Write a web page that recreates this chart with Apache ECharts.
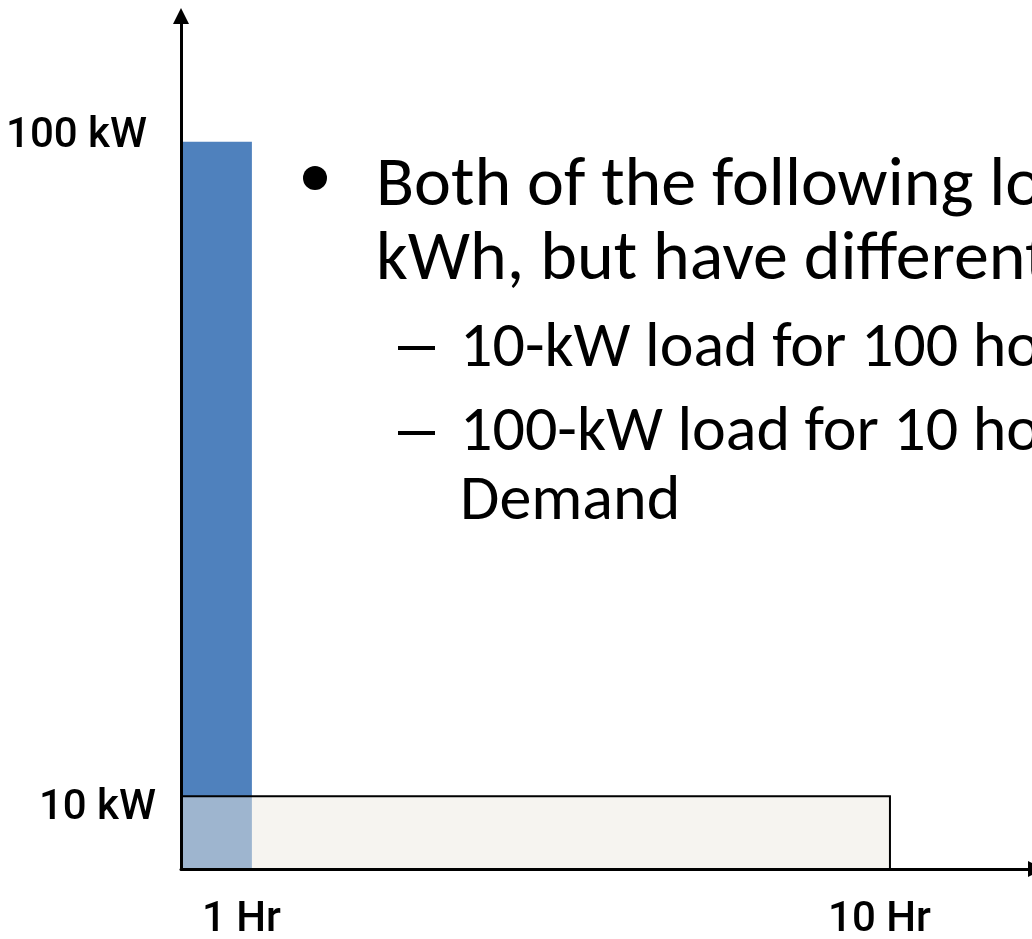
<!DOCTYPE html>
<html>
<head>
<meta charset="utf-8">
<script src="https://cdn.jsdelivr.net/npm/echarts@6/dist/echarts.min.js"></script>
<style>
html,body{margin:0;padding:0;background:#fff;}
#chart{width:1032px;height:939px;}
</style>
</head>
<body>
<div id="chart"></div>
<script>
// Data
const loadNames = ['100-kW load', '10-kW load'];
const loadHours = [1, 10];
const loadKW = [100, 10];
const yTickValues = [10, 100];
const yTickUnit = 'kW';
const xTickValues = [1, 10];
const xTickUnit = 'Hr';
const bulletLines = ['Both of the following loads use 1,000', 'kWh, but have different demands'];
const subLines = ['10-kW load for 100 hours', '100-kW load for 10 hours has more', 'Demand'];

const labelFont = 'Roboto, "Liberation Sans", sans-serif';
const textFont = 'Carlito, Calibri, Lato, sans-serif';

function rectItem(fillStyle, strokeStyle, lw) {
  return function (params, api) {
    const p0 = api.coord([0, 0]);
    const p1 = api.coord([api.value(0), api.value(1)]);
    return {
      type: 'rect',
      shape: { x: p0[0], y: p1[1], width: p1[0] - p0[0], height: p0[1] - p1[1] },
      style: { fill: fillStyle, stroke: strokeStyle, lineWidth: lw }
    };
  };
}

const chart = echarts.init(document.getElementById('chart'), null, { renderer: 'canvas' });
chart.setOption({
  animation: false,
  backgroundColor: '#ffffff',
  grid: { left: 181, right: -4, top: 16, bottom: 70, outerBoundsMode: 'none', containLabel: false },
  xAxis: {
    type: 'value', min: 0, max: 12.06, z: 5,
    axisLine: { show: true, lineStyle: { color: '#000', width: 3 }, symbol: ['none', 'triangle'], symbolSize: [16, 16] },
    axisTick: { show: false },
    splitLine: { show: false },
    axisLabel: {
      customValues: xTickValues,
      margin: 30,
      fontFamily: labelFont, fontSize: 42, fontWeight: 500, color: '#000',
      formatter: function (v) { return '{a|' + v + ' ' + xTickUnit + '}'; },
      rich: { a: { fontFamily: labelFont, fontSize: 42, fontWeight: 500, color: '#000', padding: [0, 21, 0, 0] } }
    }
  },
  yAxis: {
    type: 'value', min: 0, max: 117.3, z: 5,
    axisLine: { show: true, lineStyle: { color: '#000', width: 3 }, symbol: ['none', 'triangle'], symbolSize: [16, 16] },
    axisTick: { show: false },
    splitLine: { show: false },
    axisLabel: {
      customValues: yTickValues,
      margin: 20,
      fontFamily: labelFont, fontSize: 42, fontWeight: 500, color: '#000',
      formatter: function (v) { return (v === 100 ? '{hi|' : '{lo|') + v + ' ' + yTickUnit + '}'; },
      rich: {
        hi: { fontFamily: labelFont, fontSize: 42, fontWeight: 500, color: '#000', padding: [0, 14, 11, 0] },
        lo: { fontFamily: labelFont, fontSize: 42, fontWeight: 500, color: '#000', padding: [24, 5, 0, 0] }
      }
    }
  },
  series: [
    {
      name: loadNames[0], type: 'custom', z: 2,
      renderItem: rectItem('#4f81bd', 'none', 0),
      data: [[loadHours[0], loadKW[0]]]
    },
    {
      name: loadNames[1], type: 'custom', z: 3,
      renderItem: rectItem('rgba(237,233,225,0.5)', '#000', 2),
      data: [[loadHours[1], loadKW[1]]]
    }
  ],
  graphic: [
    { type: 'circle', shape: { cx: 315, cy: 178, r: 12 }, style: { fill: '#000' } },
    { type: 'text', x: 376, y: 187, style: { text: bulletLines[0], font: '70px ' + textFont, fill: '#000', verticalAlign: 'middle' } },
    { type: 'text', x: 376, y: 261, style: { text: bulletLines[1], font: '70px ' + textFont, fill: '#000', verticalAlign: 'middle' } },
    { type: 'rect', shape: { x: 398, y: 346, width: 37, height: 4 }, style: { fill: '#000' } },
    { type: 'text', x: 460, y: 350, style: { text: subLines[0], font: '64px ' + textFont, fill: '#000', verticalAlign: 'middle' } },
    { type: 'rect', shape: { x: 398, y: 431, width: 37, height: 4 }, style: { fill: '#000' } },
    { type: 'text', x: 460, y: 434, style: { text: subLines[1], font: '64px ' + textFont, fill: '#000', verticalAlign: 'middle' } },
    { type: 'text', x: 460, y: 503, style: { text: subLines[2], font: '64px ' + textFont, fill: '#000', verticalAlign: 'middle' } }
  ]
});
</script>
</body>
</html>
